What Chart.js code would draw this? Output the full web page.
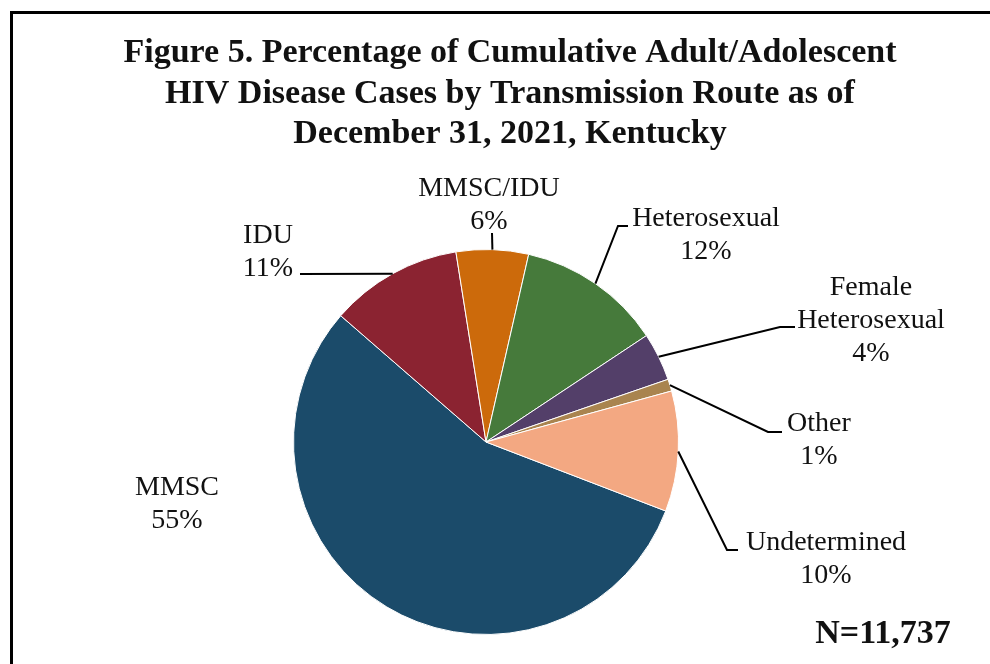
<!DOCTYPE html>
<html>
<head>
<meta charset="utf-8">
<title>Transmission Route, Kentucky 2021</title>
<script src="https://cdn.jsdelivr.net/npm/chart.js@4/dist/chart.umd.min.js"></script>
<style>
  html, body { margin: 0; padding: 0; background: #fff; }
  #wrap { position: relative; width: 990px; height: 664px; }
</style>
</head>
<body>
<div id="wrap"><canvas id="routeChart"></canvas></div>
<script>
// data
const categories = ['MMSC', 'IDU', 'MMSC/IDU', 'Heterosexual', 'Female Heterosexual', 'Other', 'Undetermined'];
const percents = [55, 11, 6, 12, 4, 1, 10];
const totalCases = '11,737';
const titleLines = [
    'Figure 5. Percentage of Cumulative Adult/Adolescent',
    'HIV Disease Cases by Transmission Route as of',
    'December 31, 2021, Kentucky'
];

const sliceColors = ['#1b4b6a', '#8b2331', '#cc6a0b', '#467a3b', '#533f69', '#a9844f', '#f3a882'];

// where each slice label sits, plus the leader path from the slice edge
const labelLayout = [
    {lines: ['MMSC', '55%'], x: 177, y: 488, leader: null},
    {lines: ['IDU', '11%'], x: 268, y: 236, leader: [[300, 274]]},
    {lines: ['MMSC/IDU', '6%'], x: 489, y: 189, leader: [[492, 233]]},
    {lines: ['Heterosexual', '12%'], x: 706, y: 219, leader: [[618, 226], [628, 226]]},
    {lines: ['Female', 'Heterosexual', '4%'], x: 871, y: 288, leader: [[780, 327], [795, 327]]},
    {lines: ['Other', '1%'], x: 819, y: 424, leader: [[768, 432], [782, 432]]},
    {lines: ['Undetermined', '10%'], x: 826, y: 543, leader: [[727, 550], [738, 550]]}
];

const serif = '"Liberation Serif", "Times New Roman", serif';

//draw frame, title, labels and leaders
const decorations = {
    id: 'decorations',
    afterDraw(chart) {
        const ctx = chart.ctx;
        const meta = chart.getDatasetMeta(0);
        ctx.save();

        // outer frame (runs off the right and bottom edges)
        ctx.strokeStyle = '#000';
        ctx.lineWidth = 3;
        ctx.beginPath();
        ctx.moveTo(11.5, 700);
        ctx.lineTo(11.5, 12.5);
        ctx.lineTo(1000, 12.5);
        ctx.stroke();

        ctx.fillStyle = '#111';
        ctx.textAlign = 'center';
        ctx.textBaseline = 'middle';
        ctx.font = 'bold 34px ' + serif;
        const titleY = [53, 94, 134];
        titleLines.forEach((t, i) => ctx.fillText(t, 510, titleY[i]));

        // leaders start at the middle of each slice's outer edge
        ctx.lineWidth = 2;
        ctx.strokeStyle = '#000';
        labelLayout.forEach((lab, i) => {
            if (!lab.leader) return;
            const arc = meta.data[i];
            const mid = (arc.startAngle + arc.endAngle) / 2;
            const px = arc.x + Math.cos(mid) * arc.outerRadius;
            const py = arc.y + Math.sin(mid) * arc.outerRadius;
            ctx.beginPath();
            ctx.moveTo(px, py);
            lab.leader.forEach(p => ctx.lineTo(p[0], p[1]));
            ctx.stroke();
        });

        ctx.font = '28px ' + serif;
        labelLayout.forEach(lab => {
            lab.lines.forEach((t, j) => ctx.fillText(t, lab.x, lab.y + j * 33));
        });

        ctx.font = 'bold 34px ' + serif;
        ctx.fillText('N=' + totalCases, 883, 634);
        ctx.restore();
    }
};

const config = {
    type: 'pie',
    data: {
        labels: categories,
        datasets: [{
            data: percents,
            backgroundColor: sliceColors,
            borderColor: '#ffffff',
            borderWidth: 1
        }]
    },
    options: {
        responsive: true,
        maintainAspectRatio: false,
        animation: false,
        rotation: 111,
        layout: {
            padding: {top: 249, bottom: 29, left: 293, right: 311}
        },
        plugins: {
            legend: {display: false},
            tooltip: {enabled: false}
        }
    },
    plugins: [decorations]
};

const routeChart = new Chart(document.getElementById('routeChart'), config);
</script>
</body>
</html>
